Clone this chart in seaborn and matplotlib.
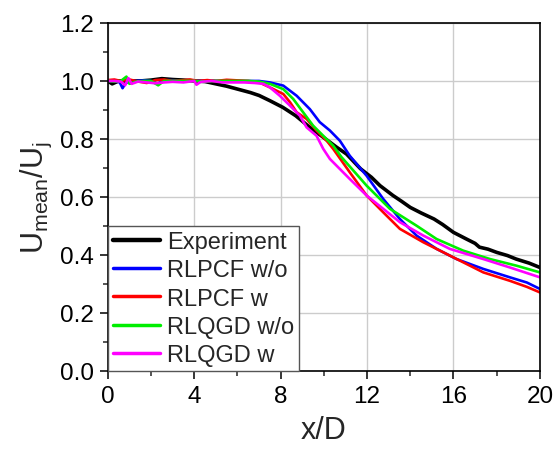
import numpy as np
import pandas as pd
import seaborn as sns
import matplotlib.pyplot as plt
from matplotlib.ticker import MultipleLocator, FormatStrFormatter

# centreline velocity decay
exp_x = [0, 0.2, 0.5, 1.0, 1.5, 2.0, 2.5, 3.0, 3.5, 4.0, 4.5, 5.0, 5.5, 6.0, 6.6, 7.0, 7.5,
         8.1, 8.7, 9.35, 9.97, 10.6, 11.05, 11.7, 12.2, 12.6, 12.9, 13.2, 13.6, 14.0, 14.5,
         15.1, 15.5, 16.0, 16.6, 17.0, 17.2, 17.6, 18.0, 18.5, 18.9, 19.5, 20.0]
exp_y = [1.0, 0.99, 1.0, 1.0, 1.0, 1.003, 1.008, 1.005, 1.003, 1.0, 0.998, 0.99, 0.982, 0.972,
         0.96, 0.95, 0.932, 0.909, 0.88, 0.84, 0.806, 0.771, 0.748, 0.697, 0.668, 0.639, 0.622,
         0.605, 0.585, 0.564, 0.545, 0.524, 0.505, 0.478, 0.455, 0.44, 0.427, 0.42, 0.409, 0.398,
         0.386, 0.372, 0.357]

pcf_wo_x = [0, 0.3, 0.55, 0.68, 0.8, 1.0, 1.3, 1.7, 2.0, 2.3, 2.5, 2.8, 3.2, 3.6, 4.0, 4.4, 4.8,
            5.2, 5.6, 6.0, 6.5, 7.0, 7.5, 8.12, 8.74, 9.35, 9.81, 10.28, 10.74, 11.2, 11.98,
            12.75, 13.52, 14.29, 15.22, 16.14, 17.38, 18.61, 19.4, 20.0]
pcf_wo_y = [1.0, 1.0, 0.995, 0.975, 0.99, 1.0, 1.0, 1.002, 1.0, 0.99, 1.0, 1.003, 1.002, 1.0,
            1.002, 1.0, 1.001, 1.0, 1.0, 1.0, 1.0, 1.0, 0.995, 0.984, 0.949, 0.903, 0.858, 0.829,
            0.794, 0.742, 0.673, 0.593, 0.524, 0.467, 0.421, 0.386, 0.352, 0.323, 0.305, 0.283]

pcf_w_x = [0, 0.3, 0.6, 1.0, 1.4, 1.8, 2.2, 2.6, 3.0, 3.4, 3.8, 4.2, 4.6, 5.0, 5.5, 6.0, 6.5,
           7.0, 7.5, 8.12, 8.43, 8.74, 9.2, 9.66, 10.13, 10.43, 11.2, 11.98, 12.75, 13.52, 14.6,
           15.83, 17.38, 18.61, 19.4, 20.0]
pcf_w_y = [1.003, 1.005, 1.0, 1.005, 0.998, 0.993, 1.003, 1.005, 1.0, 1.002, 1.005, 1.0, 1.003,
           1.0, 1.004, 1.002, 1.0, 0.995, 0.978, 0.955, 0.927, 0.892, 0.869, 0.829, 0.794, 0.766,
           0.685, 0.605, 0.547, 0.49, 0.444, 0.398, 0.34, 0.311, 0.29, 0.271]

qgd_wo_x = [0, 0.3, 0.6, 0.86, 1.0, 1.3, 1.7, 2.0, 2.33, 2.6, 3.0, 3.5, 4.0, 4.5, 5.0, 5.5, 6.0,
            6.5, 7.0, 7.5, 8.12, 8.58, 9.04, 9.5, 9.97, 10.43, 10.82, 11.2, 11.98, 13.06, 14.29,
            15.22, 16.45, 17.69, 18.92, 20.0]
qgd_wo_y = [1.0, 0.998, 1.0, 1.015, 0.99, 0.998, 1.0, 1.0, 0.985, 1.0, 1.0, 1.0, 1.0, 0.998,
            1.0, 1.0, 1.0, 1.0, 0.998, 0.99, 0.972, 0.938, 0.892, 0.846, 0.811, 0.777, 0.737,
            0.705, 0.639, 0.559, 0.501, 0.455, 0.415, 0.386, 0.363, 0.34]

qgd_w_x = [0, 0.3, 0.6, 0.8, 0.95, 1.1, 1.4, 1.8, 2.2, 2.6, 3.0, 3.5, 4.0, 4.1, 4.3, 4.8, 5.3,
           5.8, 6.3, 6.8, 7.2, 7.5, 7.96, 8.43, 8.89, 9.2, 9.66, 9.97, 10.28, 11.2, 11.98, 12.75,
           13.52, 14.6, 15.83, 17.38, 18.61, 20.0]
qgd_w_y = [1.0, 1.0, 0.998, 0.985, 1.01, 0.99, 0.998, 0.995, 0.992, 0.995, 0.997, 0.995, 1.0,
           0.987, 0.997, 1.0, 0.995, 0.995, 0.995, 0.993, 0.99, 0.978, 0.949, 0.915, 0.88, 0.84,
           0.811, 0.766, 0.731, 0.662, 0.605, 0.559, 0.513, 0.467, 0.421, 0.386, 0.357, 0.323]

labels = ["Experiment", "RLPCF w/o", "RLPCF w", "RLQGD w/o", "RLQGD w"]
colors = ["#000000", "#0000ff", "#ff0000", "#00ee00", "#ff00ff"]
widths = [2.6, 1.9, 1.9, 1.9, 1.9]
series = [(exp_x, exp_y), (pcf_wo_x, pcf_wo_y), (pcf_w_x, pcf_w_y),
          (qgd_wo_x, qgd_wo_y), (qgd_w_x, qgd_w_y)]

sns.set_style("ticks")
plt.rcParams['font.family'] = ['Liberation Sans', 'DejaVu Sans']
plt.rcParams['mathtext.default'] = 'regular'

fig = plt.figure(figsize=(5.56, 4.52), dpi=100)
ax = fig.add_axes([0.194, 0.177, 0.777, 0.770])

for (xs, ys), lab, c, lw in zip(series, labels, colors, widths):
    df = pd.DataFrame({"x": xs, "y": ys})
    sns.lineplot(data=df, x="x", y="y", ax=ax, color=c, lw=lw, label=lab,
                 sort=False, estimator=None)

ax.set_xlim(0, 20)
ax.set_ylim(0, 1.2)
ax.xaxis.set_major_locator(MultipleLocator(4))
ax.xaxis.set_minor_locator(MultipleLocator(2))
ax.yaxis.set_major_locator(MultipleLocator(0.2))
ax.yaxis.set_minor_locator(MultipleLocator(0.1))
ax.yaxis.set_major_formatter(FormatStrFormatter("%.1f"))
ax.grid(True, which="major", color="#cccccc", lw=1.0)
ax.set_axisbelow(True)

for s in ax.spines.values():
    s.set_visible(True)
    s.set_color("black")
    s.set_linewidth(1.2)
ax.tick_params(which="major", direction="out", length=6, width=1.1, labelsize=17.5,
               colors="black", top=False, right=False, pad=4)
ax.tick_params(which="minor", direction="out", length=3.5, width=1.1,
               top=False, right=False)

ax.set_xlabel("x/D", fontsize=22, labelpad=6)
ax.set_ylabel("U$_{mean}$/U$_{j}$", fontsize=22, labelpad=4)

leg = ax.legend(loc="lower left", fontsize=17, frameon=True, fancybox=False,
                borderaxespad=0, handlelength=2.0, handletextpad=0.3,
                labelspacing=0.27, borderpad=0.2)
leg.get_frame().set_edgecolor("#555555")
leg.get_frame().set_linewidth(1.0)
leg.get_frame().set_alpha(1)
for h, lw in zip(leg.get_lines(), widths):
    h.set_linewidth(lw + 0.6)

fig.savefig("out.png", dpi=100)
